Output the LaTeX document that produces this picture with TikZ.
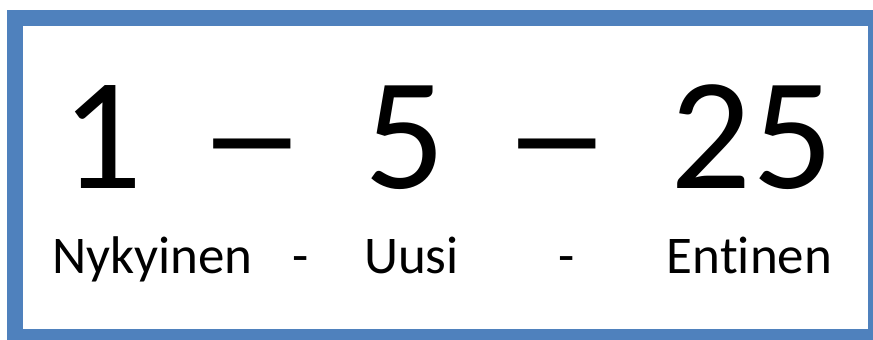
\documentclass[tikz,border=0pt]{standalone}
\usepackage{fontspec}
\usepackage{graphicx}
\setmainfont[Ligatures={NoCommon}]{Carlito}
\definecolor{boxblue}{HTML}{4F81BD}
\begin{document}
\begin{tikzpicture}[x=1pt,y=-1pt,
  big/.style={font=\fontsize{160}{160}\selectfont, anchor=base, inner sep=0pt},
  small/.style={font=\fontsize{53}{53}\selectfont, anchor=base, inner sep=0pt},
  frame/.style={draw=boxblue, line width=16pt, fill=white}]
\useasboundingbox (0,0) rectangle (873,340);
\clip (0,0) rectangle (873,340);
\draw[frame] (15,18) rectangle (876,337);
\node[big] (n1) at (102,188) {1};
\node[big] (d1) at (252.5,188) {\scalebox{1.35}[1]{–}};
\node[big] (n5) at (405,188) {5};
\node[big] (d2) at (557.5,188) {\scalebox{1.35}[1]{–}};
\node[big] (n25) at (752,188) {25};
\node[small] (t1) at (152.5,273) {Nykyinen};
\node[small] (s1) at (301,273) {-};
\node[small] (t2) at (411.5,273) {Uusi};
\node[small] (s2) at (566.5,273) {-};
\node[small] (t3) at (749.5,273) {Entinen};
\end{tikzpicture}
\end{document}
